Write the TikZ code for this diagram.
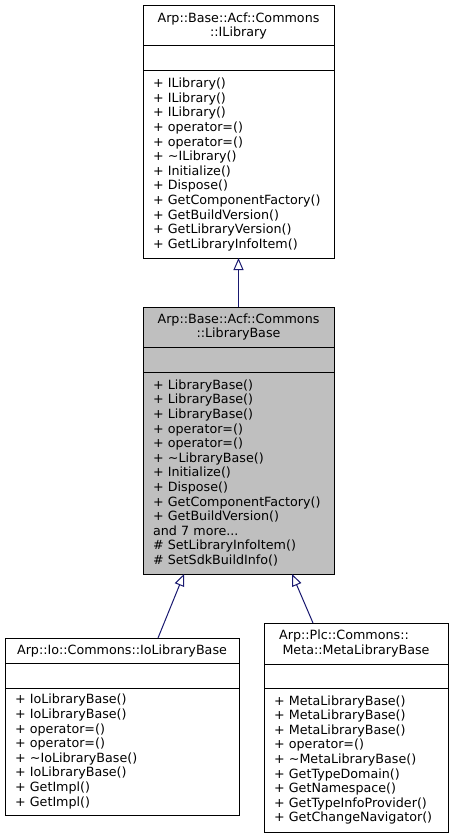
\documentclass[tikz,border=0pt]{standalone}
\usepackage{fontspec}
\setmainfont{DejaVu Sans}
\usetikzlibrary{positioning,arrows.meta}
\definecolor{edgeblue}{HTML}{191970}
\definecolor{curgray}{HTML}{BFBFBF}
\begin{document}
\begin{tikzpicture}[
    x=1pt, y=-1pt,
    font=\fontsize{12.7}{14.6}\selectfont,
    membox/.style={
        rectangle, draw=black, fill=white, line width=1pt,
        inner xsep=10pt, inner ysep=0pt, outer sep=0pt,
        align=left, anchor=north,
      },
    headbox/.style={membox, align=center},
    derived/.style={
        edgeblue, line width=1pt,
        -{Triangle[length=12pt, width=10pt, fill=white]},
      },
  ]
  \useasboundingbox (0,0) rectangle (453,837);

  % interface
  \node[headbox, text width=171pt, minimum height=40pt] (ilib) at (238.5,6)
  {Arp::Base::Acf::Commons\\::ILibrary};
  \node[membox, text width=171pt, minimum height=25pt, below=0pt of ilib] (ilibattr) {};
  \node[membox, text width=171pt, minimum height=187pt, below=0pt of ilibattr] (ilibops)
  {+ ILibrary()\\+ ILibrary()\\+ ILibrary()\\+ operator=()\\+ operator=()\\
    + \textasciitilde ILibrary()\\+ Initialize()\\+ Dispose()\\
    + GetComponentFactory()\\+ GetBuildVersion()\\+ GetLibraryVersion()\\
    + GetLibraryInfoItem()};

  % current class
  \node[headbox, fill=curgray, text width=171pt, minimum height=40pt] (lib) at (238.5,307)
  {Arp::Base::Acf::Commons\\::LibraryBase};
  \node[membox, fill=curgray, text width=171pt, minimum height=25pt, below=0pt of lib] (libattr) {};
  \node[membox, fill=curgray, text width=171pt, minimum height=202pt, below=0pt of libattr] (libops)
  {+ LibraryBase()\\+ LibraryBase()\\+ LibraryBase()\\+ operator=()\\+ operator=()\\
    + \textasciitilde LibraryBase()\\+ Initialize()\\+ Dispose()\\
    + GetComponentFactory()\\+ GetBuildVersion()\\and 7 more...\\
    \# SetLibraryInfoItem()\\\# SetSdkBuildInfo()};

  % derived classes
  \node[headbox, text width=214pt, minimum height=25pt] (iolib) at (122,638)
  {Arp::Io::Commons::IoLibraryBase};
  \node[membox, text width=214pt, minimum height=25pt, below=0pt of iolib] (iolibattr) {};
  \node[membox, text width=214pt, minimum height=127pt, below=0pt of iolibattr] (iolibops)
  {+ IoLibraryBase()\\+ IoLibraryBase()\\+ operator=()\\+ operator=()\\
    + \textasciitilde IoLibraryBase()\\+ IoLibraryBase()\\+ GetImpl()\\+ GetImpl()};

  \node[headbox, text width=164pt, minimum height=41pt] (metalib) at (356,623)
  {Arp::Plc::Commons::\rule{24pt}{0pt}\\Meta::MetaLibraryBase};
  \node[membox, text width=164pt, minimum height=24pt, below=0pt of metalib] (metalibattr) {};
  \node[membox, text width=164pt, minimum height=144pt, below=0pt of metalibattr] (metalibops)
  {+ MetaLibraryBase()\\+ MetaLibraryBase()\\+ MetaLibraryBase()\\+ operator=()\\
    + \textasciitilde MetaLibraryBase()\\+ GetTypeDomain()\\+ GetNamespace()\\
    + GetTypeInfoProvider()\\+ GetChangeNavigator()};

  \draw[derived] (lib.north) -- (ilibops.south);
  \draw[derived] ([xshift=36pt]iolib.north) -- ([xshift=-54.5pt]libops.south);
  \draw[derived] ([xshift=-43pt]metalib.north) -- ([xshift=53.5pt]libops.south);
\end{tikzpicture}
\end{document}
